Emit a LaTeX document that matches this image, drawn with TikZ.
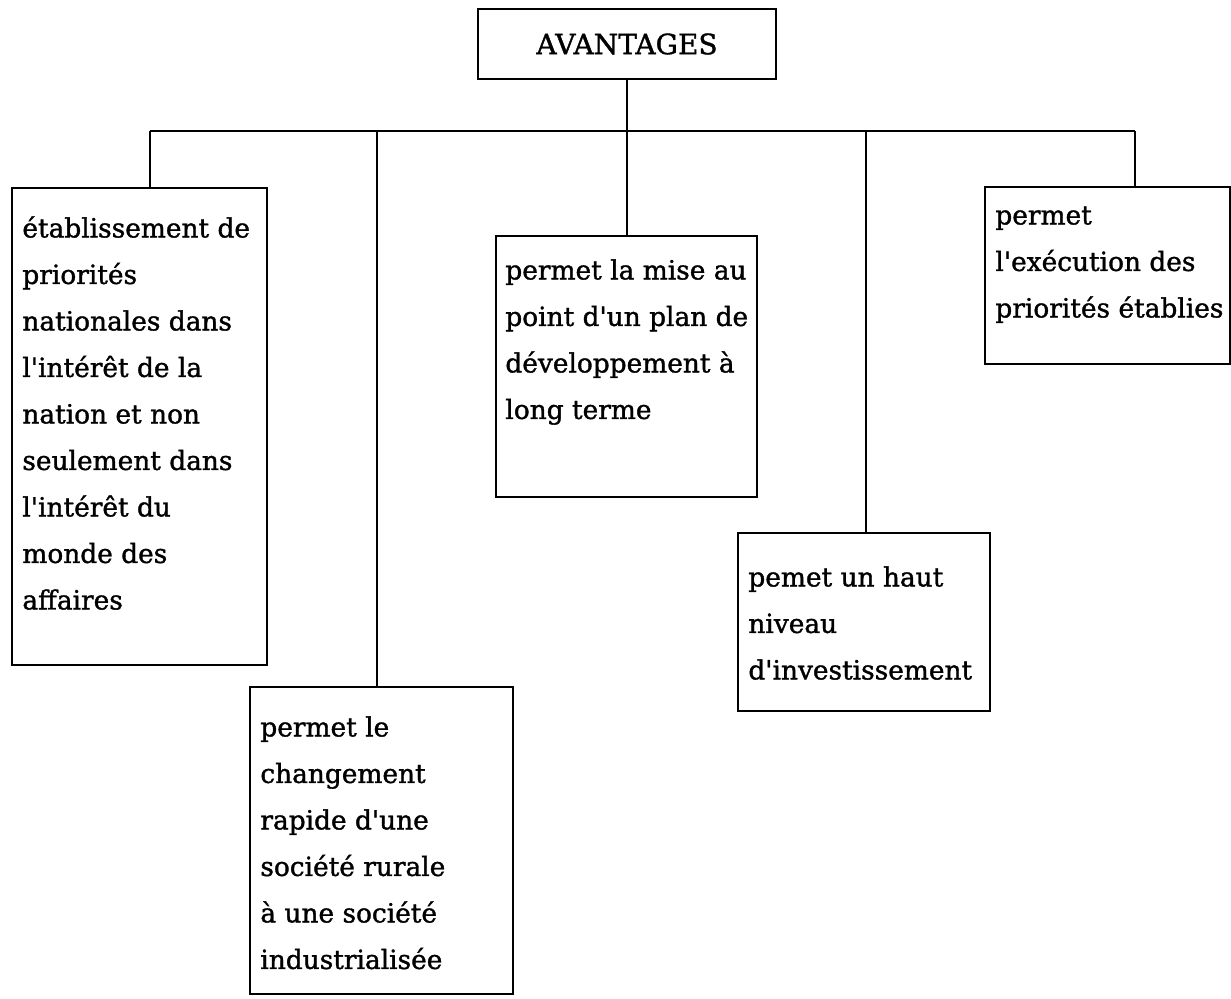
\documentclass[tikz,border=0pt]{standalone}
\usepackage{fontspec}
\setmainfont{DejaVu Serif}[Ligatures=TeXOff, FakeBold=1.3]
\usetikzlibrary{fit}
\newcommand\firstln{\rule{0pt}{12pt}}
\begin{document}
\begin{tikzpicture}[x=0.5pt,y=-0.5pt,
  box/.style={draw, line width=1pt, inner sep=0pt},
  txt/.style={anchor=north west, inner sep=0pt, align=left,
    font={\fontsize{13.2}{23.25}\selectfont}},
  conn/.style={line width=1pt}]
\useasboundingbox (0,0) rectangle (1231,998);
% boxes
\node[box, fit={(478,9)(776,79)}] (top) {};
\node[anchor=center, inner sep=0pt, font={\fontsize{14}{16}\selectfont}] (toptxt) at (627,44) {AVANTAGES};
\node[box, fit={(12,188)(267,665)}] (b1) {};
\node[box, fit={(250,687)(513,994)}] (b2) {};
\node[box, fit={(496,236)(757,497)}] (b3) {};
\node[box, fit={(738,533)(990,711)}] (b4) {};
\node[box, fit={(985,187)(1230,364)}] (b5) {};
% texts
\node[txt] (t1) at (22,213) {\firstln établissement de\\priorités\\nationales dans\\l'intérêt de la\\nation et non\\seulement dans\\l'intérêt du\\monde des\\affaires};
\node[txt] (t2) at (260,712) {\firstln permet le\\changement\\rapide d'une\\société rurale\\à une société\\industrialisée};
\node[txt] (t3) at (505,255) {\firstln permet la mise au\\point d'un plan de\\développement à\\long terme};
\node[txt] (t4) at (748,562) {\firstln pemet un haut\\niveau\\d'investissement};
\node[txt] (t5) at (995,200) {\firstln permet\\l'exécution des\\priorités établies};
% connectors
\coordinate (busL) at (150,131);
\coordinate (busR) at (1135,131);
\coordinate (d2) at (377,131);
\coordinate (d3) at (627,131);
\coordinate (d4) at (866,131);
\draw[conn] (top.south) -- (d3);
\draw[conn] (busL) -- (busR);
\draw[conn] (busL) -- (busL |- b1.north);
\draw[conn] (d2) -- (d2 |- b2.north);
\draw[conn] (d3) -- (d3 |- b3.north);
\draw[conn] (d4) -- (d4 |- b4.north);
\draw[conn] (busR) -- (busR |- b5.north);
\end{tikzpicture}
\end{document}
